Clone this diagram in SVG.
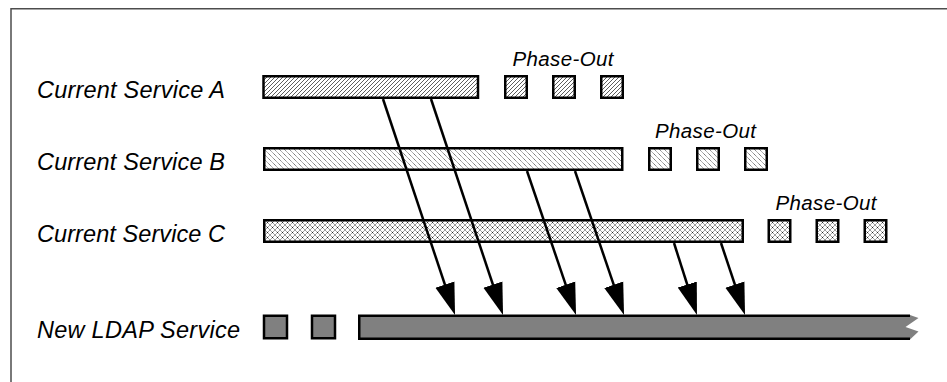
<svg xmlns="http://www.w3.org/2000/svg" width="947" height="382" viewBox="0 0 947 382">
<style>
.lbl{font-family:"Liberation Sans",Arial,sans-serif;font-style:italic;font-size:23.5px;fill:#000}
.po{font-family:"Liberation Sans",Arial,sans-serif;font-style:italic;font-size:20.5px;fill:#000}
.box{stroke:#000;stroke-width:2.5}
.a{fill:url(#hatchA)}
.b{fill:url(#hatchB)}
.c{fill:url(#hatchC)}
.n{fill:#808080}
.arrow{stroke:#000;stroke-width:2.5;fill:none;marker-end:url(#head)}
</style>
<defs>
<pattern id="hatchA" patternUnits="userSpaceOnUse" width="4" height="4">
<rect width="4" height="4" fill="#fff"/>
<path d="M-1,1 L1,-1 M0,4 L4,0 M3,5 L5,3" stroke="#333" stroke-width="0.8"/>
</pattern>
<pattern id="hatchB" patternUnits="userSpaceOnUse" width="5" height="5">
<rect width="5" height="5" fill="#fff"/>
<path d="M-1,-1 L6,6 M-1,4 L1,6 M4,-1 L6,1" stroke="#555" stroke-width="0.9" stroke-dasharray="1.2 0.6"/>
</pattern>
<pattern id="hatchC" patternUnits="userSpaceOnUse" width="5" height="5">
<rect width="5" height="5" fill="#fff"/>
<path d="M0,0 L5,5 M5,0 L0,5" stroke="#777" stroke-width="0.7"/>
<rect x="2" y="2" width="1" height="1" fill="#222"/>
</pattern>
<marker id="head" markerUnits="userSpaceOnUse" markerWidth="34" markerHeight="22" viewBox="0 -11 34 22" refX="12" refY="0" orient="auto">
<path d="M0,-10 L32,0 L0,10 Z" fill="#000"/>
</marker>
</defs>
<rect width="947" height="382" fill="#fff"/>
<path d="M11,382 V8.75 H947" fill="none" stroke="#4d4d4d" stroke-width="1.5"/>

<g id="service-a">
<text class="lbl" x="37" y="98" textLength="188" lengthAdjust="spacing">Current Service A</text>
<rect class="box a" x="263.5" y="76.25" width="214.5" height="21.5"/>
<rect class="box a" x="505.25" y="76.25" width="21.5" height="21.5"/>
<rect class="box a" x="553.25" y="76.25" width="21.5" height="21.5"/>
<rect class="box a" x="601.25" y="76.25" width="21.5" height="21.5"/>
<text class="po" x="512.5" y="66" textLength="101" lengthAdjust="spacing">Phase-Out</text>
</g>

<g id="service-b">
<text class="lbl" x="37" y="170" textLength="188" lengthAdjust="spacing">Current Service B</text>
<rect class="box b" x="264.25" y="148.25" width="358" height="21.5"/>
<rect class="box b" x="649.25" y="148.25" width="21.5" height="21.5"/>
<rect class="box b" x="697.25" y="148.25" width="21.5" height="21.5"/>
<rect class="box b" x="745.25" y="148.25" width="21.5" height="21.5"/>
<text class="po" x="655" y="138" textLength="101" lengthAdjust="spacing">Phase-Out</text>
</g>

<g id="service-c">
<text class="lbl" x="37" y="242" textLength="188" lengthAdjust="spacing">Current Service C</text>
<rect class="box c" x="264.25" y="220.25" width="478.5" height="21.5"/>
<rect class="box c" x="768.75" y="220.25" width="21.5" height="21.5"/>
<rect class="box c" x="816.75" y="220.25" width="21.5" height="21.5"/>
<rect class="box c" x="864.75" y="220.25" width="21.5" height="21.5"/>
<text class="po" x="775.5" y="210" textLength="101" lengthAdjust="spacing">Phase-Out</text>
</g>

<g id="new-ldap">
<text class="lbl" x="37" y="338" textLength="203" lengthAdjust="spacing">New LDAP Service</text>
<rect class="box n" x="264" y="315.75" width="23" height="22.5"/>
<rect class="box n" x="312" y="315.75" width="23" height="22.5"/>
<path class="n" d="M359,315 H910 L918.5,318 L905.5,327 L918.5,331.5 L910,339.5 H359 Z"/>
<path d="M910,315.75 H359.25 V338.75 H910" fill="none" stroke="#000" stroke-width="2.5"/>
</g>

<g id="connectors">
<line class="arrow" x1="383" y1="99" x2="448.7" y2="296"/>
<line class="arrow" x1="431" y1="99" x2="496.7" y2="296"/>
<line class="arrow" x1="527" y1="171" x2="569.6" y2="296.1"/>
<line class="arrow" x1="575" y1="171" x2="617.6" y2="296.1"/>
<line class="arrow" x1="674" y1="243" x2="690.9" y2="296"/>
<line class="arrow" x1="721" y1="243" x2="738.7" y2="296"/>
</g>
</svg>
